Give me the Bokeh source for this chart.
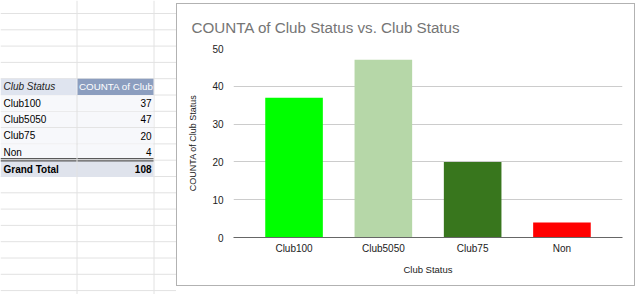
from bokeh.plotting import figure
from bokeh.models import FactorRange, Range1d, FixedTicker, Spacer, ColumnDataSource
from bokeh.layouts import row, column
from bokeh.core.properties import value
from bokeh.embed import file_html
from bokeh.resources import INLINE

# ---- data ----
categories = ["Club100", "Club5050", "Club75", "Non"]
counts = [37, 47, 20, 4]
bar_colors = ["#00ff00", "#b6d7a8", "#38761d", "#ff0000"]
grand_total = 108
y_ticks = [0, 10, 20, 30, 40, 50]
table_headers = ["Club Status", "COUNTA of Club"]
total_label = "Grand Total"
title_text = "COUNTA of Club Status vs. Club Status"
x_title = "Club Status"
y_title = "COUNTA of Club Status"

FONT = "Liberation Sans"

# ---- left: spreadsheet with pivot table ----
left = figure(width=176, height=294, x_range=Range1d(0, 176), y_range=Range1d(294, 0),
              x_axis_type=None, y_axis_type=None, toolbar_location=None,
              output_backend="svg", min_border=0)
left.grid.visible = False
left.outline_line_color = None

row_h = 16.3
lines_y = [13 + row_h * k for k in range(18)]
# grid lines
left.segment(x0=[0] * len(lines_y), y0=lines_y, x1=[176] * len(lines_y), y1=lines_y,
             line_color="#e2e2e2", line_width=1)
left.segment(x0=[76.5, 153.5], y0=[0, 0], x1=[76.5, 153.5], y1=[294, 294],
             line_color="#e2e2e2", line_width=1)

hdr_top, hdr_bot = lines_y[4], lines_y[5]
# header cells
left.quad(left=[0], right=[76], top=[hdr_top], bottom=[hdr_bot], fill_color="#dfe4ef", line_color=None)
left.quad(left=[77], right=[153], top=[hdr_top], bottom=[hdr_bot], fill_color="#8c9ebf", line_color=None)
# data rows
for k in range(4):
    left.quad(left=[0], right=[153], top=[lines_y[5 + k] + 0.5], bottom=[lines_y[6 + k] - 0.5],
              fill_color="#f7f8fb", line_color=None)
# grand total row
left.quad(left=[0], right=[153], top=[160.5], bottom=[176.5], fill_color="#dfe3ec", line_color=None)
left.segment(x0=[0, 0], y0=[158.2, 160.4], x1=[153, 153], y1=[158.2, 160.4],
             line_color="#5a5a5a", line_width=1.2)
left.segment(x0=[76.5], y0=[hdr_bot], x1=[76.5], y1=[176.5], line_color="#e2e2e2", line_width=1)

hdr_mid = (hdr_top + hdr_bot) / 2
left.text(x=[3], y=[hdr_mid], text=[table_headers[0]], text_font=value(FONT),
          text_font_size="10px", text_font_style="italic", text_color="#222222",
          text_baseline="middle", text_align="left")
left.text(x=[78.5], y=[hdr_mid], text=[table_headers[1]], text_font=value(FONT),
          text_font_size="9.8px", text_color="#ffffff",
          text_baseline="middle", text_align="left")
row_mid = [(lines_y[5 + k] + lines_y[6 + k]) / 2 for k in range(4)]
src = ColumnDataSource(dict(y=row_mid, cat=categories, n=[str(c) for c in counts]))
left.text(x=3, y="y", text="cat", source=src, text_font=value(FONT), text_font_size="10px",
          text_color="#000000", text_baseline="middle", text_align="left")
left.text(x=151, y="y", text="n", source=src, text_font=value(FONT), text_font_size="10px",
          text_color="#000000", text_baseline="middle", text_align="right")
left.text(x=[3], y=[168.7], text=[total_label], text_font=value(FONT), text_font_size="10px",
          text_font_style="bold", text_color="#000000", text_baseline="middle", text_align="left")
left.text(x=[151], y=[168.7], text=[str(grand_total)], text_font=value(FONT), text_font_size="10px",
          text_font_style="bold", text_color="#000000", text_baseline="middle", text_align="right")

# ---- right: chart ----
bar_src = ColumnDataSource(dict(cat=categories, n=counts, color=bar_colors))
right = figure(width=459, height=283,
               x_range=FactorRange(factors=categories, range_padding=0.178, range_padding_units="absolute"),
               y_range=Range1d(0, 50), toolbar_location=None, output_backend="svg",
               min_border_left=56, min_border_right=14, min_border_top=43, min_border_bottom=50,
               styles={"border": "1px solid #b2b2b2"})
right.vbar(x="cat", top="n", width=0.645, fill_color="color", line_color=None, source=bar_src)

right.title.text = title_text
right.title.align = "left"
right.title.offset = -42
right.title.standoff = 25
right.title.text_font = FONT
right.title.text_font_size = "15.2px"
right.title.text_font_style = "normal"
right.title.text_color = "#757575"

right.outline_line_color = None
right.xgrid.visible = False
right.ygrid.ticker = FixedTicker(ticks=y_ticks)
right.ygrid.grid_line_color = "#cccccc"
right.yaxis.ticker = FixedTicker(ticks=y_ticks)

for ax in (right.xaxis, right.yaxis):
    ax.major_tick_line_color = None
    ax.minor_tick_line_color = None
    ax.major_label_text_font = FONT
    ax.major_label_text_font_size = "10px"
    ax.major_label_text_color = "#222222"
    ax.axis_label_text_font = FONT
    ax.axis_label_text_font_style = "normal"
    ax.axis_label_text_color = "#222222"

right.xaxis.axis_line_color = "#666666"
right.xaxis.major_label_standoff = -1
right.xaxis.axis_label = x_title
right.xaxis.axis_label_text_font_size = "9.5px"
right.xaxis.axis_label_standoff = 7
right.yaxis.axis_line_color = None
right.yaxis.major_label_standoff = 4
right.yaxis.axis_label = y_title
right.yaxis.axis_label_text_font_size = "9px"
right.yaxis.axis_label_standoff = 11

layout = row(left, column(Spacer(width=461, height=3), right))
open("out.html", "w").write(file_html(layout, INLINE))
